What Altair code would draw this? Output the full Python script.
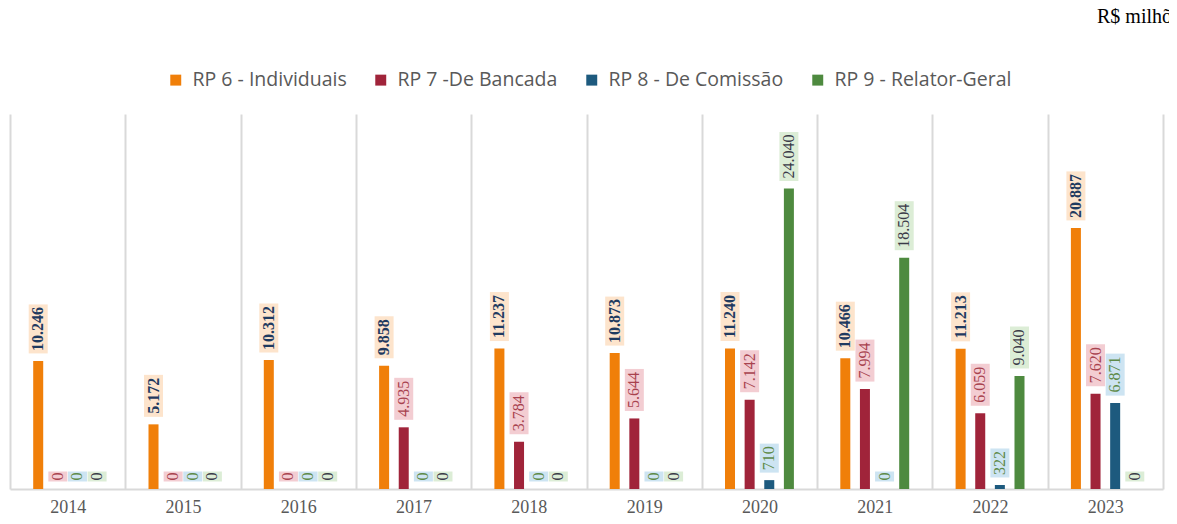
import altair as alt
import pandas as pd

years = ["2014", "2015", "2016", "2017", "2018", "2019", "2020", "2021", "2022", "2023"]
series = ["RP 6 - Individuais", "RP 7 -De Bancada", "RP 8 - De Comissão", "RP 9 - Relator-Geral"]
rp6 = [10246, 5172, 10312, 9858, 11237, 10873, 11240, 10466, 11213, 20887]
rp7 = [0, 0, 0, 4935, 3784, 5644, 7142, 7994, 6059, 7620]
rp8 = [0, 0, 0, 0, 0, 0, 710, 0, 322, 6871]
rp9 = [0, 0, 0, 0, 0, 0, 24040, 18504, 9040, 0]
unit_note = "R$ milhões"

bar_colors = ["#F07F09", "#A0243A", "#1D5A7E", "#4E8A3F"]
box_colors = ["#FDE4CC", "#F3CDD2", "#CDE4F2", "#DCEDD6"]
txt_colors = ["#1F3A60", "#A8424E", "#5E8A48", "#3A3A48"]

rows = []
for s, vals in zip(series, [rp6, rp7, rp8, rp9]):
    for y, v in zip(years, vals):
        lab = f"{v:,}".replace(",", ".")
        rows.append({"year": y, "series": s, "value": v, "lab": lab, "n": len(lab)})
df = pd.DataFrame(rows)

W, H = 1153, 375
GAP = 7.5

base = alt.Chart(df).encode(
    x=alt.X(
        "year:N",
        sort=years,
        title=None,
        scale=alt.Scale(paddingInner=0, paddingOuter=0),
        axis=alt.Axis(
            labelAngle=0,
            labelFont="Liberation Serif",
            labelFontSize=18,
            labelColor="#595959",
            labelPadding=9,
            ticks=False,
            grid=True,
            gridColor="#D9D9D9",
            gridWidth=2,
            tickBand="extent",
            domainColor="#D9D9D9",
            domainWidth=2,
        ),
    ),
    xOffset=alt.XOffset(
        "series:N", sort=series,
        scale=alt.Scale(domain=series, range=[23.2, 92.1], paddingInner=0.49, paddingOuter=0),
    ),
    y=alt.Y("value:Q", scale=alt.Scale(domain=[0, 30000]), axis=None),
)

bars = base.mark_bar().encode(
    color=alt.Color(
        "series:N",
        sort=series,
        scale=alt.Scale(domain=series, range=bar_colors),
        legend=alt.Legend(
            title=None,
            orient="none",
            direction="horizontal",
            legendX=156,
            legendY=-44,
            symbolType="square",
            symbolSize=120,
            symbolStrokeWidth=0,
            labelFont="Open Sans",
            labelFontSize=19.5,
            labelLimit=400,
            labelColor="#595959",
            labelOffset=7,
            columnPadding=24,
            padding=0,
        ),
    )
)


def label_layers(cond, h, bold):
    box = base.transform_filter(cond).mark_bar(
        width=19, yOffset=-GAP, y2Offset=-(GAP + h)
    ).encode(
        y2="value:Q",
        fill=alt.Fill("series:N", scale=alt.Scale(domain=series, range=box_colors), legend=None),
    )
    txt = base.transform_filter(cond).mark_text(
        angle=270,
        align="center",
        baseline="middle",
        yOffset=-(GAP + h / 2),
        font="Liberation Serif",
        fontSize=16,
        fontWeight="bold" if bold else "normal",
    ).encode(
        text="lab:N",
        fill=alt.Fill("series:N", scale=alt.Scale(domain=series, range=txt_colors), legend=None),
    )
    return [box, txt]


s0 = series[0]
layers = [bars]
layers += label_layers(f"datum.series == '{s0}' && datum.n == 5", 42, True)
layers += label_layers(f"datum.series == '{s0}' && datum.n == 6", 49, True)
layers += label_layers(f"datum.series != '{s0}' && datum.n == 1", 10, False)
layers += label_layers(f"datum.series != '{s0}' && datum.n == 3", 29, False)
layers += label_layers(f"datum.series != '{s0}' && datum.n == 5", 42, False)
layers += label_layers(f"datum.series != '{s0}' && datum.n == 6", 49, False)

note = alt.Chart(pd.DataFrame({"t": [unit_note]})).mark_text(
    align="left", baseline="alphabetic", font="Liberation Serif", fontSize=20, color="#000000"
).encode(text="t:N", x=alt.value(1087), y=alt.value(-91))
layers.append(note)

chart = (
    alt.layer(*layers)
    .resolve_scale(fill="independent")
    .properties(
        width=W,
        height=H,
        autosize=alt.AutoSizeParams(type="none"),
        padding={"left": 2, "top": 106, "right": 6, "bottom": 27},
    )
    .configure_view(stroke=None)
)

chart.save("out.html", embed_options={"renderer": "svg", "actions": False})
